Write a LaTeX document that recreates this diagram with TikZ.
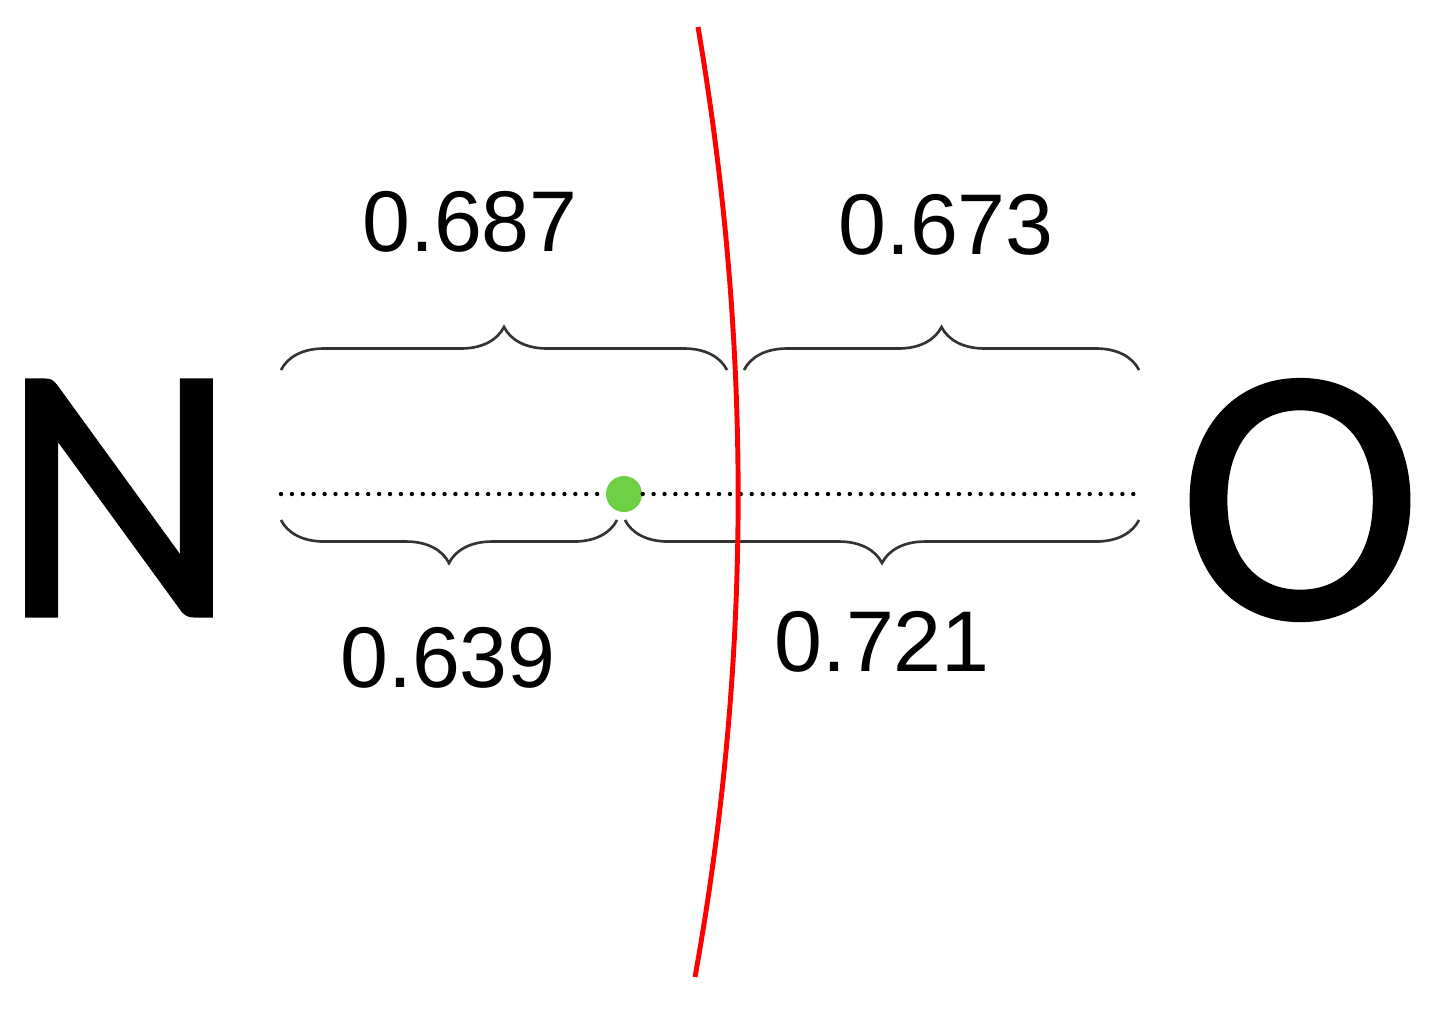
\documentclass[tikz,border=0pt]{standalone}
\usepackage{fontspec}
\setmainfont{Liberation Sans}
\newfontfamily\atomfont[FakeBold=1.2]{Carlito}
\usetikzlibrary{positioning,
        decorations.pathreplacing}
\definecolor{dotgreen}{RGB}{110,208,68}

\begin{document}
\begin{tikzpicture}[x=0.01cm,y=-0.01cm,
        atom/.style={inner sep=0pt,font=\atomfont\fontsize{104}{104}\selectfont},
        len/.style={inner sep=0pt,font=\fontsize{24.5}{24.5}\selectfont},
        brc/.style={decorate,decoration={brace,amplitude=0.43cm},line width=0.75pt,black!80}]
            \useasboundingbox (0,0) rectangle (1431,1014);

            \node [atom] (N) at (119,498) {N};
            \node [atom] (O) at (1300,500) {O};

            \coordinate (bondL) at (281,494);
            \coordinate (bondR) at (1139,494);
            \node [circle,fill=dotgreen,minimum size=0.36cm,inner sep=0pt] (mid) at (624,494) {};

            \draw [line width=1.25pt,line cap=round,dash pattern=on 0pt off 3.1pt] (bondL) -- (mid);
            \draw [line width=1.25pt,line cap=round,dash pattern=on 0pt off 3.1pt] (mid) -- (bondR);

            % braces above the bond
            \coordinate (tl1) at (281,370);
            \coordinate (tl2) at (727,370);
            \coordinate (tr1) at (744,370);
            \coordinate (tr2) at (1139,370);
            \draw [brc] (tl1) -- (tl2);
            \draw [brc] (tr1) -- (tr2);

            % braces below the bond
            \coordinate (bl1) at (281,520);
            \coordinate (bl2) at (617,520);
            \coordinate (br1) at (625,520);
            \coordinate (br2) at (1139,520);
            \draw [brc] (bl2) -- (bl1);
            \draw [brc] (br2) -- (br1);

            \node [len] (up1) at (470,222) {0.687};
            \node [len] (up2) at (946,225) {0.673};
            \node [len] (lo1) at (448,658) {0.639};
            \node [len] (lo2) at (882,642) {0.721};

            % dividing surface
            \coordinate (s1) at (698,27);
            \coordinate (s2) at (695,977);
            \draw [red,line width=1.4pt] (s1) .. controls (752,344) and (752,660) .. (s2);
        \end{tikzpicture}
\end{document}
